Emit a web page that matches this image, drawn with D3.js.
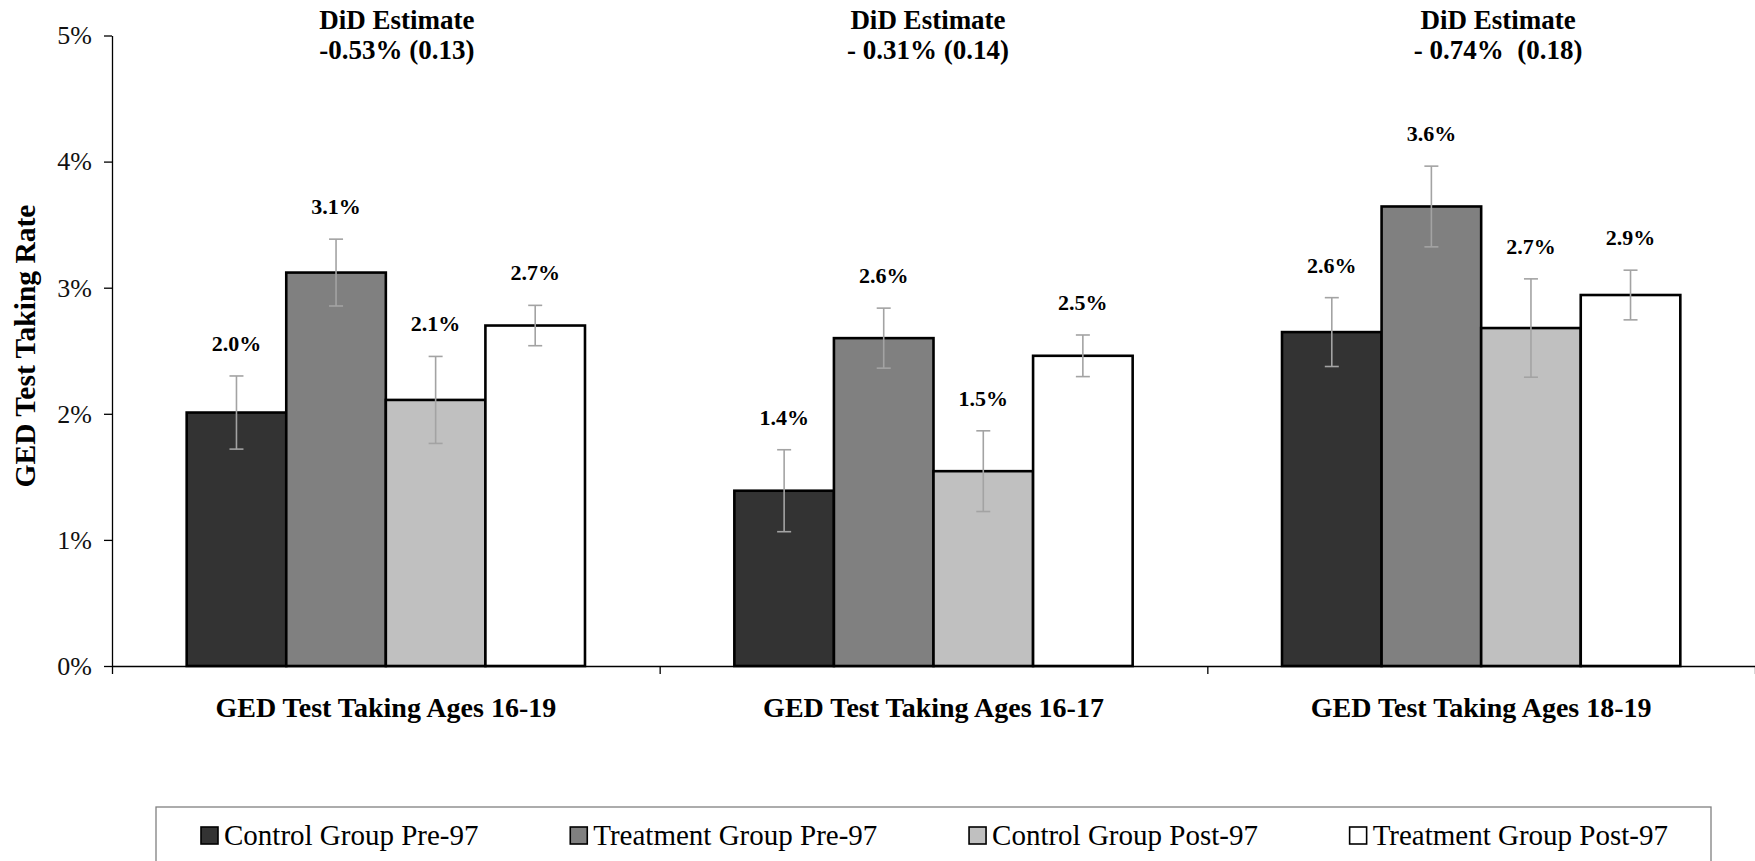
<!DOCTYPE html>
<html>
<head>
<meta charset="utf-8">
<script src="https://cdn.jsdelivr.net/npm/d3@7"></script>
<style>
  html, body { margin: 0; padding: 0; background: #fff; }
  svg { display: block; }
  svg text { font-family: "Liberation Serif", "Times New Roman", serif; }
</style>
</head>
<body>
<div id="chart"></div>
<script>
// Categories and series
const categories = ["GED Test Taking Ages 16-19", "GED Test Taking Ages 16-17", "GED Test Taking Ages 18-19"];
const series = ["Control Group Pre-97", "Treatment Group Pre-97", "Control Group Post-97", "Treatment Group Post-97"];
const seriesColors = ["#333333", "#808080", "#c0c0c0", "#ffffff"];

// Rates in percent, one value per category
const controlPre = [2.01, 1.39, 2.648];
const treatmentPre = [3.12, 2.60, 3.644];
const controlPost = [2.11, 1.545, 2.68];
const treatmentPost = [2.70, 2.46, 2.942];

// Error bar half-widths, percent points
const controlPreErr = [0.29, 0.325, 0.273];
const treatmentPreErr = [0.265, 0.238, 0.32];
const controlPostErr = [0.345, 0.32, 0.39];
const treatmentPostErr = [0.16, 0.165, 0.197];

// Difference-in-differences annotations
const didTitles = ["DiD Estimate", "DiD Estimate", "DiD Estimate"];
const didValues = ["-0.53% (0.13)", "- 0.31% (0.14)", "- 0.74%  (0.18)"];

const yTicks = [0, 1, 2, 3, 4, 5];

const values = [controlPre, treatmentPre, controlPost, treatmentPost];
const errors = [controlPreErr, treatmentPreErr, controlPostErr, treatmentPostErr];

const width = 1755, height = 861;
const plotLeft = 112, plotRight = 1755, plotTop = 35.5, plotBottom = 666;
const didShift = [11, -5.5, 17];
const serif = '"Liberation Serif", "Times New Roman", serif';

const svg = d3.select("#chart").append("svg")
    .attr("width", width)
    .attr("height", height);

svg.append("rect").attr("width", width).attr("height", height).attr("fill", "#fff");

const x = d3.scaleBand()
    .domain(categories)
    .range([plotLeft, plotRight])
    .paddingInner(0)
    .paddingOuter(0);

const xInner = d3.scaleBand()
    .domain(series)
    .range([0, x.bandwidth()])
    .paddingInner(0)
    .paddingOuter(0.75);

const y = d3.scaleLinear()
    .domain([0, 5])
    .range([plotBottom, plotTop]);

// Flatten into bar records
const bars = [];
categories.forEach((c, ci) => {
    series.forEach((s, si) => {
        bars.push({cat: c, ser: s, si: si, v: values[si][ci], e: errors[si][ci]});
    });
});

// Bars
svg.append("g").selectAll("rect")
    .data(bars)
    .enter().append("rect")
    .attr("x", d => x(d.cat) + xInner(d.ser))
    .attr("y", d => y(d.v))
    .attr("width", xInner.bandwidth())
    .attr("height", d => y(0) - y(d.v))
    .attr("fill", d => seriesColors[d.si])
    .attr("stroke", "#000")
    .attr("stroke-width", 2.6);

// Error bars
const capHalf = 7;
const eb = svg.append("g")
    .attr("stroke", "#a3a3a3")
    .attr("stroke-width", 1.6);
bars.forEach(d => {
    const cx = x(d.cat) + xInner(d.ser) + xInner.bandwidth() / 2;
    eb.append("line").attr("x1", cx).attr("x2", cx).attr("y1", y(d.v + d.e)).attr("y2", y(d.v - d.e));
    eb.append("line").attr("x1", cx - capHalf).attr("x2", cx + capHalf).attr("y1", y(d.v + d.e)).attr("y2", y(d.v + d.e));
    eb.append("line").attr("x1", cx - capHalf).attr("x2", cx + capHalf).attr("y1", y(d.v - d.e)).attr("y2", y(d.v - d.e));
});

// Value labels
svg.append("g").selectAll("text")
    .data(bars)
    .enter().append("text")
    .attr("x", d => x(d.cat) + xInner(d.ser) + xInner.bandwidth() / 2)
    .attr("y", d => y(d.v + d.e) - 25)
    .attr("text-anchor", "middle")
    .style("font-size", "22px")
    .style("font-weight", "bold")
    .text(d => d.v.toFixed(1) + "%");

// Y axis
const yAxis = d3.axisLeft(y)
    .tickValues(yTicks)
    .tickFormat(d => d + "%")
    .tickSize(8)
    .tickSizeOuter(0)
    .tickPadding(12);

const gy = svg.append("g")
    .attr("transform", `translate(${plotLeft},0)`)
    .call(yAxis)
    .attr("font-family", serif);
gy.selectAll("path, line").attr("stroke", "#000").attr("stroke-width", 1.3);
gy.selectAll("text")
    .style("font-size", "26px")
    .style("font-family", serif)
    .attr("fill", "#111");

// X axis with ticks at category boundaries
const xEdges = d3.scaleLinear().domain([0, categories.length]).range([plotLeft, plotRight]);
const gx = svg.append("g")
    .attr("transform", `translate(0,${plotBottom})`)
    .call(d3.axisBottom(xEdges)
        .tickValues(d3.range(categories.length + 1))
        .tickFormat("")
        .tickSize(8)
        .tickSizeOuter(0));
gx.selectAll("path, line").attr("stroke", "#000").attr("stroke-width", 1.3);

// Category labels
svg.append("g").selectAll("text")
    .data(categories)
    .enter().append("text")
    .attr("x", d => x(d) + x.bandwidth() / 2)
    .attr("y", 717)
    .attr("text-anchor", "middle")
    .style("font-size", "28px")
    .style("font-weight", "bold")
    .text(d => d);

// DiD annotations
categories.forEach((c, i) => {
    const t = svg.append("text")
        .attr("text-anchor", "middle")
        .style("font-size", "27px")
        .style("font-weight", "bold")
        .style("white-space", "pre");
    const cx = x(c) + x.bandwidth() / 2 + didShift[i];
    t.append("tspan").attr("x", cx).attr("y", 29).text(didTitles[i]);
    t.append("tspan").attr("x", cx).attr("y", 59).text(didValues[i]);
});

// Y axis title
svg.append("text")
    .attr("transform", `translate(35,346) rotate(-90)`)
    .attr("text-anchor", "middle")
    .style("font-size", "29.5px")
    .style("font-weight", "bold")
    .text("GED Test Taking Rate");

// Legend
const legendBox = {x: 156, y: 807, w: 1555, h: 80};
svg.append("rect")
    .attr("x", legendBox.x).attr("y", legendBox.y)
    .attr("width", legendBox.w).attr("height", legendBox.h)
    .attr("fill", "#fff")
    .attr("stroke", "#808080")
    .attr("stroke-width", 1.3);

const legend = svg.append("g");
const sw = 17, swGap = 6;
const items = series.map((s, i) => {
    const g = legend.append("g");
    g.append("rect")
        .attr("x", 0).attr("y", 827)
        .attr("width", sw).attr("height", sw)
        .attr("fill", seriesColors[i])
        .attr("stroke", "#000")
        .attr("stroke-width", 1.6);
    const txt = g.append("text")
        .attr("x", sw + swGap).attr("y", 845)
        .style("font-size", "29px")
        .text(s);
    return {g: g, w: sw + swGap + txt.node().getComputedTextLength()};
});
const legStart = legendBox.x + 45, legEnd = legendBox.x + legendBox.w - 43;
const totalW = d3.sum(items, d => d.w);
const gap = (legEnd - legStart - totalW) / (items.length - 1);
let cursor = legStart;
items.forEach(it => {
    it.g.attr("transform", `translate(${cursor},0)`);
    cursor += it.w + gap;
});
</script>
</body>
</html>
